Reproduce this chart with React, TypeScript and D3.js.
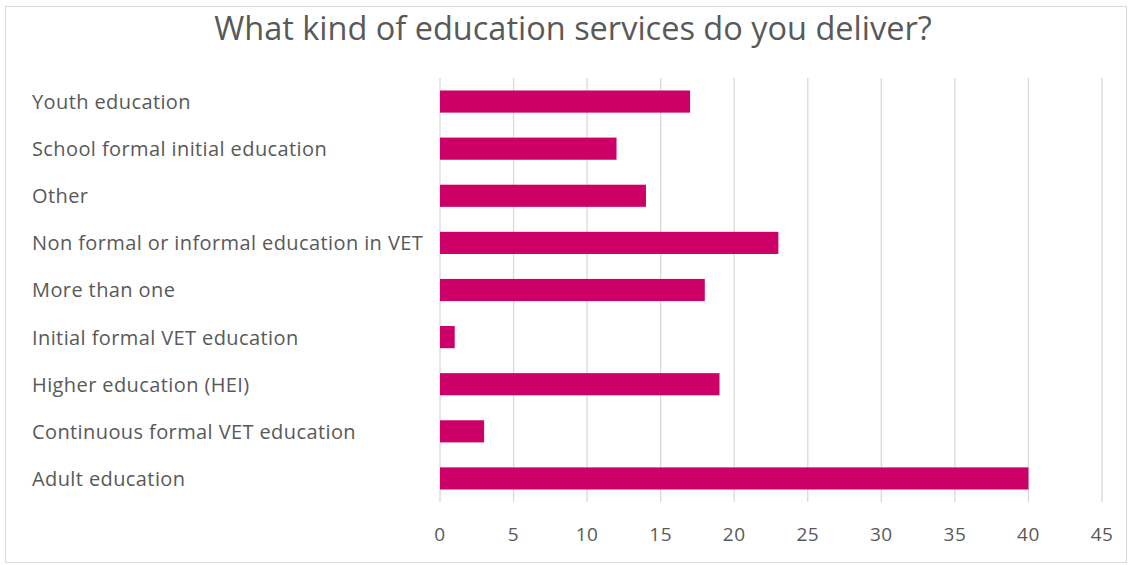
import React from "react";
import * as d3 from "d3";

const categories = [
  "Youth education",
  "School formal initial education",
  "Other",
  "Non formal or informal education in VET",
  "More than one",
  "Initial formal VET education",
  "Higher education (HEI)",
  "Continuous formal VET education",
  "Adult education",
];
const values = [17, 12, 14, 23, 18, 1, 19, 3, 40];
const ticks = [0, 5, 10, 15, 20, 25, 30, 35, 40, 45];
const title = "What kind of education services do you deliver?";

const W = 1131;
const H = 565;
const FONT = "'Open Sans', 'Liberation Sans', sans-serif";

export default function App() {
  const x = d3.scaleLinear().domain([0, 45]).range([440, 1102]);
  const y = d3
    .scaleBand<string>()
    .domain(categories)
    .range([78, 502])
    .paddingInner(0.53)
    .paddingOuter(0.265);
  const gray = "#595959";
  return (
    <svg
      width={W}
      height={H}
      style={{ position: "absolute", left: 0, top: 0, background: "#fff" }}
    >
      <rect x={5.5} y={6.5} width={1121} height={556} fill="#fff" stroke="#d9d9d9" strokeWidth={1} />
      <text
        x={573}
        y={40}
        textAnchor="middle"
        fontFamily={FONT}
        fontSize={32.5}
        fill={gray}
      >
        {title}
      </text>
      {ticks.map((t) => (
        <line
          key={"g" + t}
          x1={x(t)}
          x2={x(t)}
          y1={78}
          y2={502}
          stroke="#d9d9d9"
          strokeWidth={1.3}
        />
      ))}
      {categories.map((c, i) => (
        <rect
          key={"b" + c}
          x={x(0)}
          y={y(c)}
          width={x(values[i]) - x(0)}
          height={y.bandwidth()}
          fill="#CC0066"
        />
      ))}
      {categories.map((c) => (
        <text
          key={"l" + c}
          x={32}
          y={(y(c) as number) + y.bandwidth() / 2}
          dy="0.37em"
          fontFamily={FONT}
          fontSize={20}
          letterSpacing={0.4}
          fill={gray}
        >
          {c}
        </text>
      ))}
      {ticks.map((t) => (
        <text
          key={"t" + t}
          x={x(t)}
          y={534}
          dy="0.36em"
          textAnchor="middle"
          fontFamily={FONT}
          fontSize={19}
          letterSpacing={0.5}
          fill={gray}
        >
          {t}
        </text>
      ))}
    </svg>
  );
}
